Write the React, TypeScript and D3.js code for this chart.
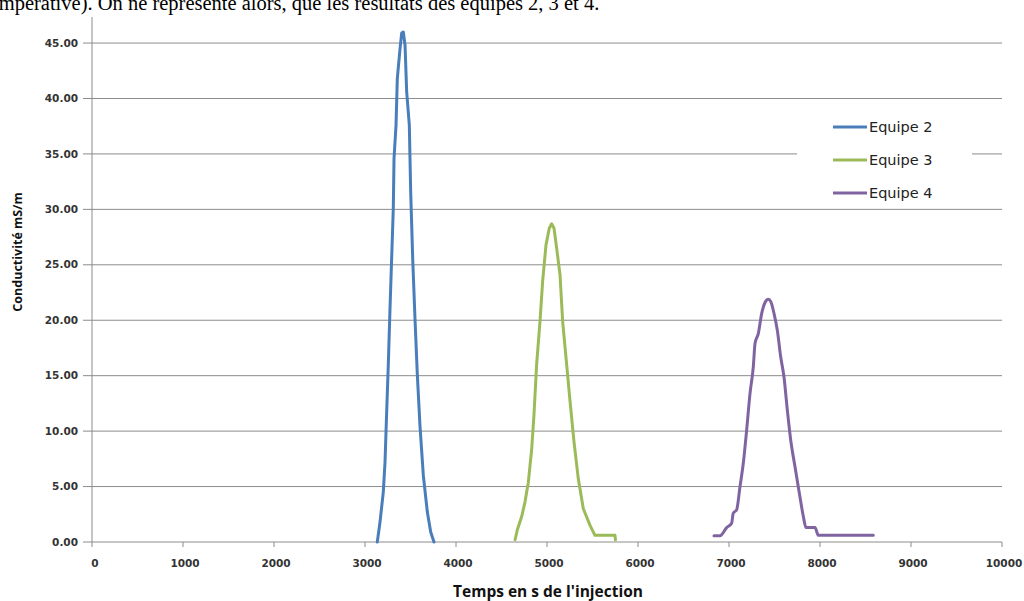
import React from 'react';
import * as d3 from 'd3';

// temps (s) / conductivité (mS/m)
const equipe2 = [
  [3135, 0], [3165, 1.8], [3201, 4.5], [3220, 7.2], [3238, 11.7], [3256, 16.0],
  [3275, 21.1], [3293, 25.6], [3311, 30.1], [3319, 34.6], [3341, 37.6], [3355, 41.8],
  [3385, 44.5], [3403, 45.9], [3421, 46.0], [3440, 44.8], [3458, 40.6], [3487, 37.6],
  [3502, 31.6], [3524, 25.6], [3549, 20.2], [3575, 15.1], [3604, 10.5], [3641, 6.0],
  [3685, 2.7], [3722, 0.9], [3758, 0],
];
const equipe3 = [
  [4649, 0.2], [4674, 1.1], [4722, 2.3], [4758, 3.6], [4795, 5.4], [4832, 8.4],
  [4857, 11.5], [4886, 16.0], [4923, 19.9], [4952, 23.5], [4989, 26.8], [5025, 28.3],
  [5051, 28.7], [5077, 28.3], [5106, 26.5], [5143, 24.1], [5172, 19.9], [5216, 16.0],
  [5253, 12.7], [5297, 9.0], [5344, 5.7], [5399, 3.0], [5473, 1.5], [5527, 0.6],
  [5747, 0.6], [5752, 0.2],
];
const equipe4 = [
  [6835, 0.57], [6901, 0.57], [6974, 1.3], [7029, 1.7], [7047, 2.6], [7084, 2.9],
  [7121, 5.0], [7157, 7.1], [7194, 10.1], [7231, 13.4], [7267, 15.8], [7286, 17.9],
  [7322, 18.8], [7359, 20.6], [7396, 21.6], [7432, 21.9], [7458, 21.7], [7495, 20.6],
  [7531, 19.1], [7568, 16.7], [7604, 14.9], [7641, 11.9], [7678, 9.2], [7725, 6.8],
  [7773, 4.4], [7817, 2.3], [7846, 1.3], [7945, 1.3], [7982, 0.6], [8586, 0.6],
];
const seriesNames = ['Equipe 2', 'Equipe 3', 'Equipe 4'];
const colors = ['#4a7ebb', '#9bbb59', '#8064a2'];
const xTicks = [0, 1000, 2000, 3000, 4000, 5000, 6000, 7000, 8000, 9000, 10000];
const yTicks = [0, 5, 10, 15, 20, 25, 30, 35, 40, 45];

const width = 1024;
const height = 601;

export default function App() {
  const x = d3.scaleLinear().domain([0, 10000]).range([92, 1002]);
  const y = d3.scaleLinear().domain([0, 47.35]).range([542, 17]);

  const line = d3.line<number[]>().x(d => x(d[0])).y(d => y(d[1]));
  const smooth = d3.line<number[]>().x(d => x(d[0])).y(d => y(d[1])).curve(d3.curveMonotoneX);

  const series = [equipe2, equipe3, equipe4];
  const fmt = d3.format('.2f');
  const tickFont = { fontFamily: 'DejaVu Sans', fontWeight: 'bold', fontSize: 10.5, fill: '#333' };

  return (
    <svg width={width} height={height} style={{ position: 'absolute', left: 0, top: 0, background: '#fff' }}>
      <text x={-7} y={10} fontFamily="Liberation Serif" fontSize={20.5} fill="#000">
        impérative). On ne représente alors, que les résultats des équipes 2, 3 et 4.
      </text>

      {/* grille */}
      {yTicks.filter(t => t > 0).map(t => (
        <line key={t} x1={x(0)} x2={x(10000)} y1={y(t)} y2={y(t)} stroke="#8c8c8c" strokeWidth={1} />
      ))}

      {/* axes */}
      <line x1={x(0)} x2={x(0)} y1={y(0)} y2={y.range()[1]} stroke="#8c8c8c" strokeWidth={1} />
      <line x1={x(0)} x2={x(10000)} y1={y(0)} y2={y(0)} stroke="#8c8c8c" strokeWidth={1} />
      {yTicks.map(t => (
        <g key={t}>
          <line x1={x(0) - 9} x2={x(0)} y1={y(t)} y2={y(t)} stroke="#8c8c8c" />
          <text x={x(0) - 14} y={y(t)} dy="0.35em" textAnchor="end" {...tickFont}>{fmt(t)}</text>
        </g>
      ))}
      {xTicks.map(t => (
        <g key={t}>
          <line x1={x(t)} x2={x(t)} y1={y(0)} y2={y(0) + 5} stroke="#8c8c8c" />
          <text x={x(t) + (t === 0 ? 3 : 2)} y={563} dy="0.35em" textAnchor="middle" {...tickFont}>{t}</text>
        </g>
      ))}

      {/* courbes */}
      {series.map((s, i) => (
        <path key={i} d={(i === 2 ? smooth : line)(s) || ''} fill="none" stroke={colors[i]}
          strokeWidth={3} strokeLinejoin="round" strokeLinecap="round" />
      ))}

      {/* légende */}
      <rect x={797} y={106} width={175} height={100} fill="#fff" />
      {seriesNames.map((n, i) => (
        <g key={n} transform={`translate(833,${127 + i * 33})`}>
          <line x1={0} x2={34} y1={0} y2={0} stroke={colors[i]} strokeWidth={3} />
          <text x={36} y={0} dy="0.35em" fontFamily="DejaVu Sans" fontSize={14.5} fill="#222">{n}</text>
        </g>
      ))}

      {/* titres des axes */}
      <text x={548} y={592} dy="0.35em" textAnchor="middle" fontFamily="Open Sans" fontWeight="bold" fontSize={15.5} fill="#111">
        Temps en s de l'injection
      </text>
      <text transform="translate(18,252) rotate(-90)" dy="0.35em" textAnchor="middle" fontFamily="Open Sans" fontWeight="bold" fontSize={12.5} fill="#111">
        Conductivité mS/m
      </text>
    </svg>
  );
}
